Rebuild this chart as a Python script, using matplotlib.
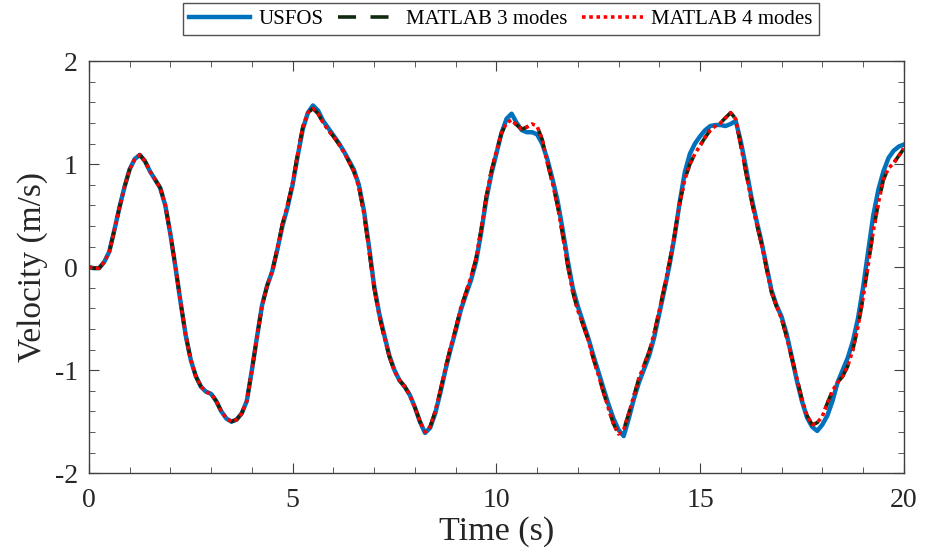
import matplotlib
matplotlib.use("Agg")
import matplotlib.pyplot as plt
import numpy as np
from matplotlib.ticker import MultipleLocator

plt.rcParams["font.family"] = ["Liberation Serif", "DejaVu Serif"]
plt.rcParams["axes.unicode_minus"] = False

# velocity samples every 0.125 s over 0-20 s
time = np.arange(161) * 0.125

usfos = [0.00, -0.01, -0.01, 0.05, 0.15, 0.36, 0.58, 0.78, 0.95, 1.05,
         1.09, 1.03, 0.93, 0.85, 0.77, 0.60, 0.32, 0.00, -0.34, -0.66,
         -0.90, -1.06, -1.16, -1.21, -1.23, -1.30, -1.40, -1.47, -1.50, -1.48,
         -1.42, -1.30, -1.00, -0.68, -0.37, -0.18, -0.04, 0.17, 0.40, 0.58,
         0.80, 1.08, 1.34, 1.50, 1.57, 1.52, 1.42, 1.35, 1.28, 1.21,
         1.13, 1.04, 0.95, 0.80, 0.55, 0.20, -0.18, -0.45, -0.66, -0.86,
         -1.00, -1.10, -1.16, -1.24, -1.36, -1.50, -1.61, -1.56, -1.42, -1.22,
         -1.00, -0.80, -0.62, -0.42, -0.27, -0.13, 0.05, 0.33, 0.65, 0.90,
         1.10, 1.30, 1.44, 1.49, 1.40, 1.33, 1.31, 1.31, 1.29, 1.20,
         1.05, 0.86, 0.65, 0.37, 0.07, -0.20, -0.38, -0.53, -0.68, -0.85,
         -1.01, -1.17, -1.33, -1.47, -1.58, -1.64, -1.47, -1.28, -1.12, -0.99,
         -0.86, -0.68, -0.45, -0.22, 0.02, 0.30, 0.63, 0.92, 1.10, 1.20,
         1.27, 1.33, 1.37, 1.38, 1.38, 1.37, 1.39, 1.42, 1.22, 0.97,
         0.70, 0.47, 0.26, 0.02, -0.22, -0.37, -0.48, -0.65, -0.87, -1.10,
         -1.30, -1.46, -1.55, -1.59, -1.53, -1.44, -1.30, -1.12, -1.00, -0.88,
         -0.72, -0.50, -0.20, 0.15, 0.50, 0.75, 0.93, 1.06, 1.13, 1.17,
         1.19]

matlab_3 = [0.00, -0.01, -0.01, 0.05, 0.15, 0.36, 0.58, 0.78, 0.95, 1.05,
            1.09, 1.03, 0.93, 0.85, 0.77, 0.60, 0.32, 0.00, -0.34, -0.66,
            -0.90, -1.06, -1.16, -1.21, -1.23, -1.30, -1.40, -1.47, -1.50, -1.48,
            -1.42, -1.30, -1.00, -0.68, -0.37, -0.18, -0.04, 0.18, 0.42, 0.60,
            0.82, 1.10, 1.36, 1.50, 1.54, 1.49, 1.40, 1.33, 1.27, 1.20,
            1.12, 1.03, 0.93, 0.78, 0.52, 0.17, -0.20, -0.47, -0.68, -0.87,
            -1.01, -1.10, -1.16, -1.24, -1.36, -1.50, -1.60, -1.55, -1.40, -1.20,
            -0.98, -0.78, -0.60, -0.40, -0.25, -0.10, 0.08, 0.36, 0.68, 0.93,
            1.12, 1.30, 1.40, 1.43, 1.38, 1.34, 1.36, 1.39, 1.37, 1.24,
            1.02, 0.82, 0.60, 0.32, 0.02, -0.24, -0.42, -0.56, -0.70, -0.88,
            -1.04, -1.21, -1.37, -1.52, -1.62, -1.58, -1.42, -1.25, -1.08, -0.95,
            -0.82, -0.64, -0.42, -0.19, 0.05, 0.32, 0.62, 0.85, 1.00, 1.10,
            1.18, 1.26, 1.33, 1.37, 1.40, 1.45, 1.50, 1.44, 1.18, 0.92,
            0.67, 0.44, 0.24, 0.00, -0.24, -0.38, -0.50, -0.68, -0.88, -1.08,
            -1.28, -1.44, -1.53, -1.51, -1.45, -1.32, -1.20, -1.12, -1.06, -0.96,
            -0.80, -0.58, -0.30, 0.02, 0.35, 0.62, 0.85, 0.96, 1.01, 1.08,
            1.15]
# the 4-mode run lies on top of the 3-mode run
matlab_4 = list(matlab_3)

fig = plt.figure(figsize=(9.26, 5.56), dpi=100)
ax = fig.add_axes([0.096, 0.149, 0.880, 0.741])

ax.plot(time, usfos, color="#0072BD", lw=3.2, solid_joinstyle="round", label="USFOS")
ax.plot(time, matlab_3, color="#0F2A0F", lw=2.6, ls=(0, (5, 4)), label="MATLAB 3 modes")
ax.plot(time, matlab_4, color="#FF0000", lw=2.6, ls=(0, (1, 1)), label="MATLAB 4 modes")

ax.set_xlim(0, 20)
ax.set_ylim(-2, 2)
ax.xaxis.set_major_locator(MultipleLocator(5))
ax.xaxis.set_minor_locator(MultipleLocator(1))
ax.yaxis.set_major_locator(MultipleLocator(1))
ax.yaxis.set_minor_locator(MultipleLocator(0.2))
ax.tick_params(which="both", direction="in", top=True, right=True,
               colors="#404040", labelcolor="#262626", labelsize=20)
ax.tick_params(axis="x", pad=11)
ax.tick_params(axis="y", pad=8)
ax.tick_params(which="major", length=7)
ax.tick_params(which="minor", length=4)
for s in ax.spines.values():
    s.set_color("#404040")
    s.set_linewidth(1.0)

ax.set_xlabel("Time (s)", fontsize=24.5, color="#262626", labelpad=2)
ax.set_ylabel("Velocity (m/s)", fontsize=24, color="#262626", labelpad=5)

leg = fig.legend(loc="upper center", bbox_to_anchor=(0.541, 0.998), ncol=3,
                 fontsize=15, frameon=True, fancybox=False, handlelength=2.9,
                 handletextpad=0.4, columnspacing=0.7, borderpad=0.3,
                 borderaxespad=0.1)
leg.get_frame().set_edgecolor("#262626")
leg.get_frame().set_linewidth(1.0)

fig.savefig("out.png", dpi=100)
